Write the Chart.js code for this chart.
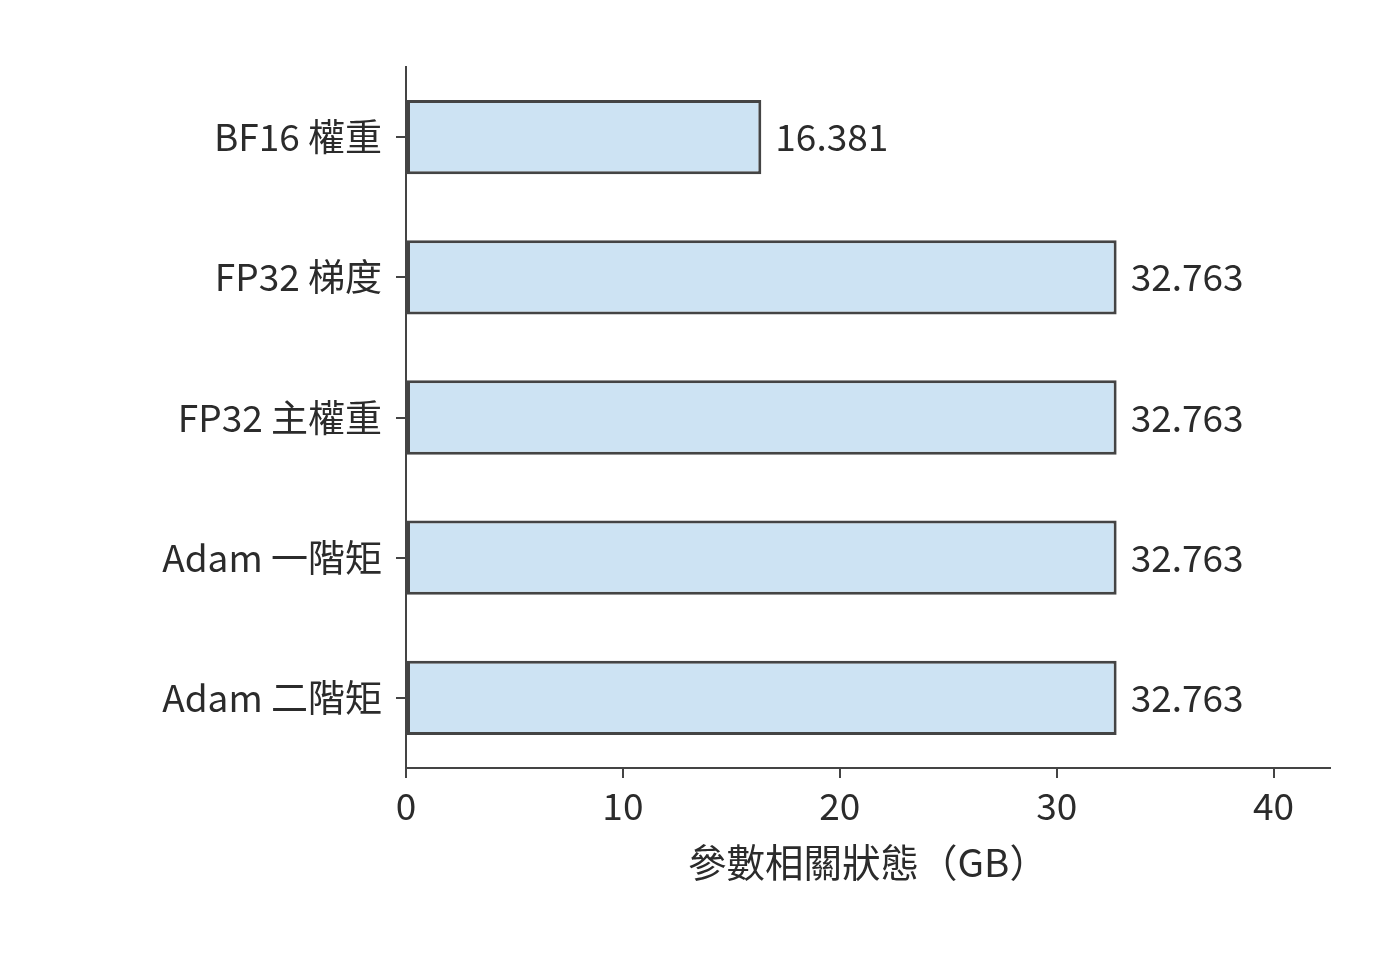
<!DOCTYPE html>
<html>
<head>
<meta charset="utf-8">
<script src="https://cdn.jsdelivr.net/npm/chart.js@4/dist/chart.umd.min.js"></script>
<style>
  html, body { margin: 0; padding: 0; background: #fff; }
  #wrap { width: 1400px; height: 960px; }
</style>
</head>
<body>
<div id="wrap"><canvas id="chart" width="1400" height="960"></canvas></div>
<script>
// data
const categories = ['BF16 權重', 'FP32 梯度', 'FP32 主權重', 'Adam 一階矩', 'Adam 二階矩'];
const sizesGB = [16.381, 32.763, 32.763, 32.763, 32.763];
const xTicks = [0, 10, 20, 30, 40];
const xTitle = '參數相關狀態（GB）';

const FONT = "'Noto Sans CJK TC', 'Noto Sans', sans-serif";
const INK = '#2b2b2b';
const EDGE = '#444444';

// value labels at the end of each bar
const valueLabels = {
  id: 'valueLabels',
  afterDatasetsDraw(chart) {
    const ctx = chart.ctx;
    const meta = chart.getDatasetMeta(0);
    ctx.save();
    ctx.font = '37px ' + FONT;
    ctx.fillStyle = INK;
    ctx.textAlign = 'left';
    ctx.textBaseline = 'middle';
    meta.data.forEach((bar, i) => {
      ctx.fillText(sizesGB[i].toFixed(3), bar.x + 14, bar.y);
    });
    ctx.restore();
  }
};

new Chart(document.getElementById('chart'), {
  type: 'bar',
  data: {
    labels: categories,
    datasets: [{
      data: sizesGB,
      backgroundColor: '#cde3f3',
      borderColor: EDGE,
      borderWidth: 3,
      borderSkipped: false,
      barPercentage: 0.53,
      categoryPercentage: 1
    }]
  },
  options: {
    indexAxis: 'y',
    responsive: false,
    animation: false,
    layout: { padding: { top: 67, right: 70, left: 0, bottom: 0 } },
    plugins: {
      legend: { display: false },
      tooltip: { enabled: false }
    },
    scales: {
      x: {
        type: 'linear',
        min: 0,
        max: 42.6,
        afterBuildTicks: axis => { axis.ticks = xTicks.map(v => ({ value: v })); },
        afterFit: axis => { axis.height = 192; },
        border: { display: true, color: EDGE, width: 2 },
        grid: { drawOnChartArea: false, color: EDGE, lineWidth: 2, tickLength: 10 },
        ticks: { color: INK, font: { family: FONT, size: 37 }, padding: 6, maxRotation: 0 },
        title: {
          display: true,
          text: xTitle,
          color: INK,
          font: { family: FONT, size: 38.5 },
          padding: { top: 0, bottom: 75 }
        }
      },
      y: {
        type: 'category',
        afterFit: axis => { axis.width = 406; },
        border: { display: true, color: EDGE, width: 2 },
        grid: { offset: false, drawOnChartArea: false, color: EDGE, lineWidth: 2, tickLength: 10 },
        ticks: { color: INK, font: { family: FONT, size: 37 }, padding: 14 }
      }
    }
  },
  plugins: [valueLabels]
});
</script>
</body>
</html>
